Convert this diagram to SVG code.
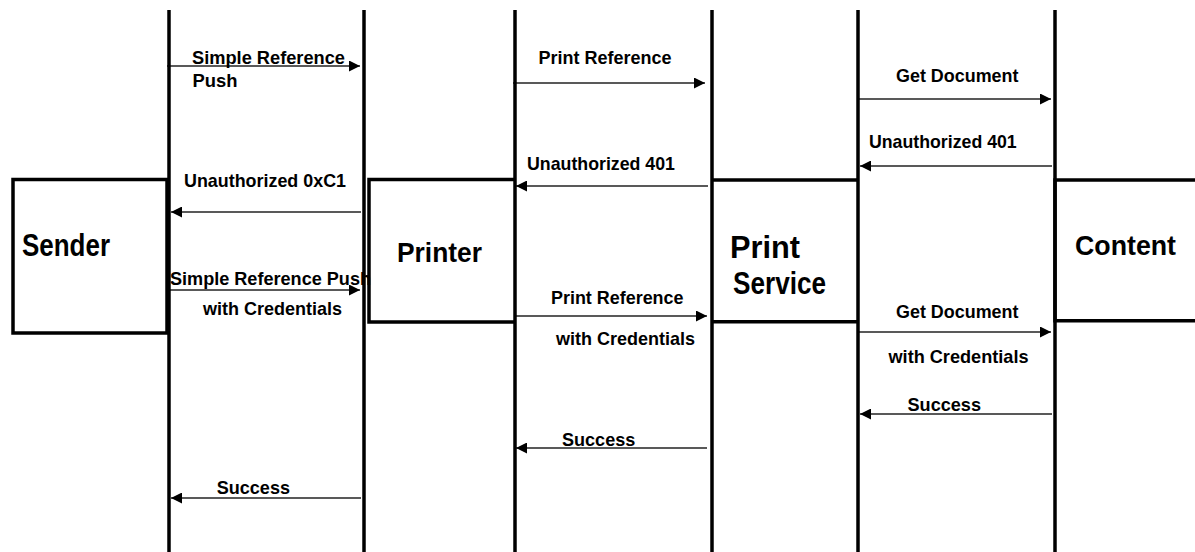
<svg xmlns="http://www.w3.org/2000/svg" width="1195" height="552" viewBox="0 0 1195 552">
<style>
.life{stroke:#000;stroke-width:3.5;fill:none}
.box{stroke:#000;stroke-width:3.5;fill:none}
.msg{stroke:#222;stroke-width:1.4;fill:none;marker-end:url(#ah)}
.lbl{font-family:"Liberation Sans",Arial,sans-serif;font-weight:bold;font-size:19px;fill:#000}
.name{font-family:"Liberation Sans",Arial,sans-serif;font-weight:bold;fill:#000}
</style>
<defs>
<marker id="ah" markerUnits="userSpaceOnUse" markerWidth="11" markerHeight="11" refX="11" refY="5.5" orient="auto">
<path d="M0,0 L11,5.5 L0,11 z" fill="#000"/>
</marker>
</defs>
<rect width="1195" height="552" fill="#fff"/>
<g id="connectors">
<line class="msg" x1="167" y1="66" x2="360" y2="66"/>
<line class="msg" x1="361" y1="212" x2="171" y2="212"/>
<line class="msg" x1="170" y1="290" x2="360" y2="290"/>
<line class="msg" x1="513" y1="83" x2="705" y2="83"/>
<line class="msg" x1="708" y1="186" x2="516" y2="186"/>
<line class="msg" x1="515" y1="316" x2="707" y2="316"/>
<line class="msg" x1="858" y1="99" x2="1051" y2="99"/>
<line class="msg" x1="1052" y1="166" x2="860" y2="166"/>
<line class="msg" x1="858" y1="332" x2="1051" y2="332"/>
<line class="msg" x1="1052" y1="414" x2="860" y2="414"/>
<line class="msg" x1="707" y1="448" x2="516" y2="448"/>
<line class="msg" x1="361" y1="498" x2="171" y2="498"/>
<text class="lbl" x="192" y="63.5" textLength="153" lengthAdjust="spacingAndGlyphs">Simple Reference</text>
<text class="lbl" x="192.5" y="87" textLength="45" lengthAdjust="spacingAndGlyphs">Push</text>
<text class="lbl" x="184" y="186.5" textLength="162" lengthAdjust="spacingAndGlyphs">Unauthorized 0xC1</text>
<text class="lbl" x="170" y="284.5" textLength="201" lengthAdjust="spacingAndGlyphs">Simple Reference Push</text>
<text class="lbl" x="203" y="315" textLength="139" lengthAdjust="spacingAndGlyphs">with Credentials</text>
<text class="lbl" x="538.5" y="64" textLength="133" lengthAdjust="spacingAndGlyphs">Print Reference</text>
<text class="lbl" x="527" y="170" textLength="148" lengthAdjust="spacingAndGlyphs">Unauthorized 401</text>
<text class="lbl" x="551" y="304" textLength="132.5" lengthAdjust="spacingAndGlyphs">Print Reference</text>
<text class="lbl" x="556" y="345" textLength="139" lengthAdjust="spacingAndGlyphs">with Credentials</text>
<text class="lbl" x="896" y="81.5" textLength="122.5" lengthAdjust="spacingAndGlyphs">Get Document</text>
<text class="lbl" x="869" y="148.3" textLength="147.7" lengthAdjust="spacingAndGlyphs">Unauthorized 401</text>
<text class="lbl" x="896" y="318.3" textLength="122.5" lengthAdjust="spacingAndGlyphs">Get Document</text>
<text class="lbl" x="888.5" y="362.7" textLength="140" lengthAdjust="spacingAndGlyphs">with Credentials</text>
<text class="lbl" x="907.5" y="411" textLength="73.5" lengthAdjust="spacingAndGlyphs">Success</text>
<text class="lbl" x="562" y="445.7" textLength="73.3" lengthAdjust="spacingAndGlyphs">Success</text>
<text class="lbl" x="216.7" y="494" textLength="73.3" lengthAdjust="spacingAndGlyphs">Success</text>
</g>
<g id="sender">
<rect class="box" x="13" y="179.5" width="154" height="153.5"/>
<line class="life" x1="169" y1="10" x2="169" y2="552"/>
<text class="name" x="22" y="255.7" font-size="31" textLength="88" lengthAdjust="spacingAndGlyphs">Sender</text>
</g>
<g id="printer">
<line class="life" x1="364" y1="10" x2="364" y2="552"/>
<path class="box" d="M515,179.5 H369 V322 H515"/>
<line class="life" x1="515" y1="10" x2="515" y2="552"/>
<text class="name" x="397" y="261.7" font-size="28" textLength="85" lengthAdjust="spacingAndGlyphs">Printer</text>
</g>
<g id="print-service">
<line class="life" x1="712" y1="10" x2="712" y2="552"/>
<path class="box" d="M712,180 H858 M712,321.7 H858"/>
<line class="life" x1="858" y1="10" x2="858" y2="552"/>
<text class="name" x="730" y="258.3" font-size="31" textLength="70" lengthAdjust="spacingAndGlyphs">Print</text>
<text class="name" x="733" y="294" font-size="31" textLength="93" lengthAdjust="spacingAndGlyphs">Service</text>
</g>
<g id="content">
<line class="life" x1="1055" y1="10" x2="1055" y2="552"/>
<path class="box" d="M1195,180 H1055 V320.7 H1195"/>
<text class="name" x="1075" y="255" font-size="28" textLength="101" lengthAdjust="spacingAndGlyphs">Content</text>
</g>
</svg>
